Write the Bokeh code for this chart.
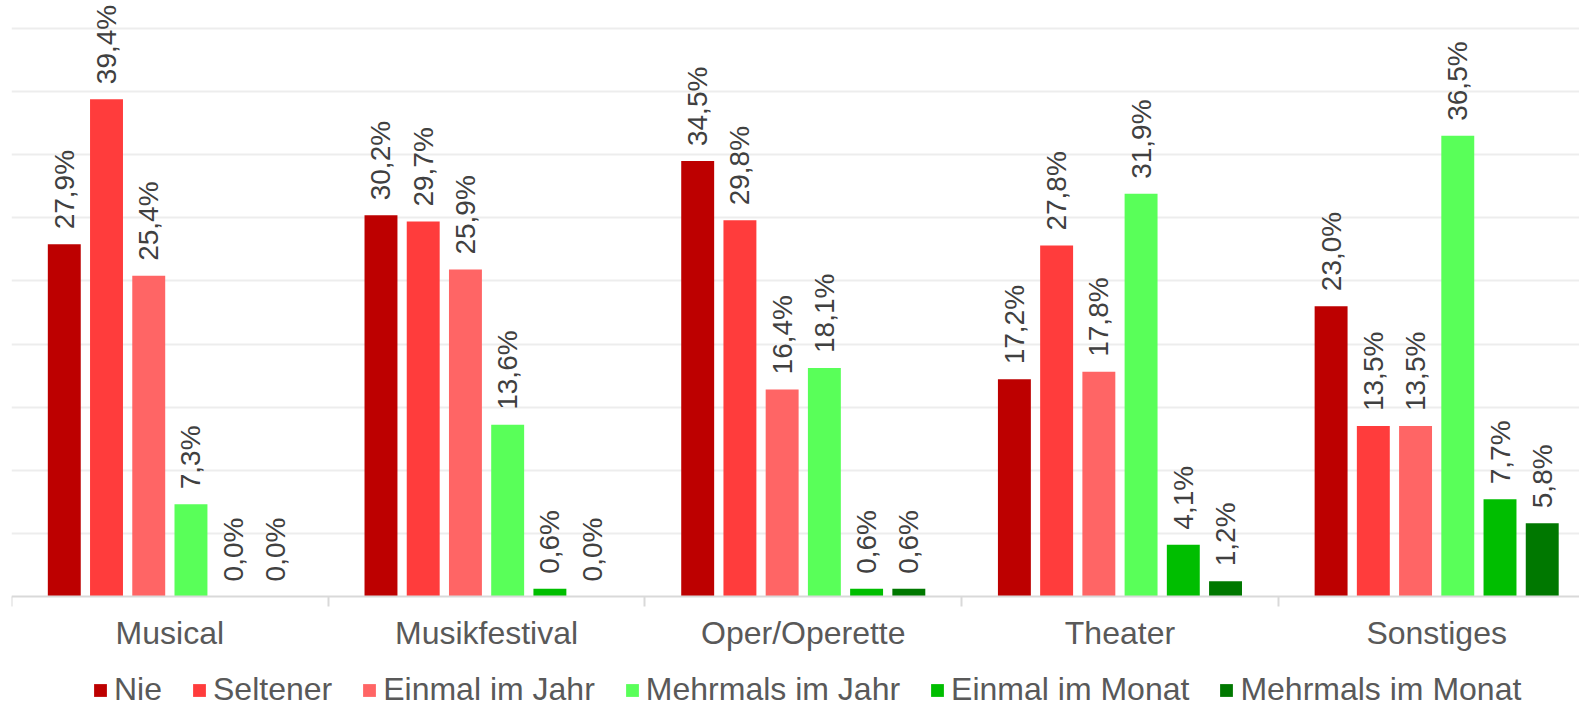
from bokeh.plotting import figure
from bokeh.models import (ColumnDataSource, Range1d, FixedTicker, Legend, LegendItem)
from bokeh.transform import dodge
from bokeh.core.properties import value
from bokeh.embed import file_html
from bokeh.resources import INLINE
import math

# Besuchshäufigkeit nach Veranstaltungsart (Anteile in %)
categories = ["Musical", "Musikfestival", "Oper/Operette", "Theater", "Sonstiges"]
series_names = ["Nie", "Seltener", "Einmal im Jahr", "Mehrmals im Jahr",
                "Einmal im Monat", "Mehrmals im Monat"]
nie = [27.9, 30.2, 34.5, 17.2, 23.0]
seltener = [39.4, 29.7, 29.8, 27.8, 13.5]
einmal_jahr = [25.4, 25.9, 16.4, 17.8, 13.5]
mehrmals_jahr = [7.3, 13.6, 18.1, 31.9, 36.5]
einmal_monat = [0.0, 0.6, 0.6, 4.1, 7.7]
mehrmals_monat = [0.0, 0.0, 0.6, 1.2, 5.8]
series_values = [nie, seltener, einmal_jahr, mehrmals_jahr, einmal_monat, mehrmals_monat]
colors = ["#bd0000", "#ff3c3c", "#ff6565", "#59ff59", "#00be00", "#007800"]

FONT = "Liberation Sans"

# the frame spans the whole canvas; the category axis sits at y = 0 and
# the legend is placed inside the frame below it
p = figure(width=1579, height=708, output_backend="svg", toolbar_location=None,
           x_range=Range1d(0, 4.951), y_range=Range1d(-8.883, 47.22),
           min_border_left=11, min_border_right=0, min_border_top=0,
           min_border_bottom=0)
p.outline_line_color = None
p.background_fill_color = "white"
p.border_fill_color = "white"

# horizontal grid every 5 %, no visible y axis
p.yaxis.visible = False
p.xgrid.visible = False
p.ygrid.ticker = FixedTicker(ticks=[5, 10, 15, 20, 25, 30, 35, 40, 45])
p.ygrid.grid_line_color = "#ededed"
p.ygrid.grid_line_width = 2

# category labels at group centres, separator ticks between groups
centers = [i + 0.5 for i in range(len(categories))]
xa = p.xaxis[0]
xa.fixed_location = 0
xa.ticker = FixedTicker(ticks=centers, minor_ticks=list(range(len(categories) + 1)))
xa.major_label_overrides = {c: name for c, name in zip(centers, categories)}
xa.major_tick_line_color = None
xa.major_tick_out = 0
xa.major_tick_in = 0
xa.minor_tick_in = 0
xa.minor_tick_out = 10
xa.minor_tick_line_color = "#d9d9d9"
xa.minor_tick_line_width = 2
xa.axis_line_color = "#d9d9d9"
xa.axis_line_width = 2
xa.major_label_standoff = 9
xa.major_label_text_font = FONT
xa.major_label_text_font_size = "32px"
xa.major_label_text_color = "#595959"

bar_step = 2 / 15
bar_width = 0.104
items = []
for i, (name, vals, col) in enumerate(zip(series_names, series_values, colors)):
    src = ColumnDataSource(dict(
        x=centers,
        top=vals,
        label=[f"{v:.1f}".replace(".", ",") + "%" for v in vals],
    ))
    off = (i - 2.5) * bar_step
    r = p.vbar(x=dodge("x", off), top="top", width=bar_width, bottom=0,
               source=src, fill_color=col, line_color=None)
    p.text(x=dodge("x", off), y="top", text="label", source=src,
           angle=math.pi / 2, text_align="left", text_baseline="middle",
           y_offset=-15, text_font=value(FONT), text_font_size="28px",
           text_color="#404040")
    items.append(LegendItem(label=name, renderers=[r]))

legend = Legend(items=items, orientation="horizontal", location=(81, 0),
                label_text_font=FONT, label_text_font_size="32px",
                label_text_color="#595959", glyph_width=16, glyph_height=16,
                label_height=20, label_standoff=6, spacing=29, padding=0,
                margin=0, border_line_color=None, background_fill_alpha=0)
p.add_layout(legend, "center")

open("out.html", "w").write(file_html(p, INLINE))
